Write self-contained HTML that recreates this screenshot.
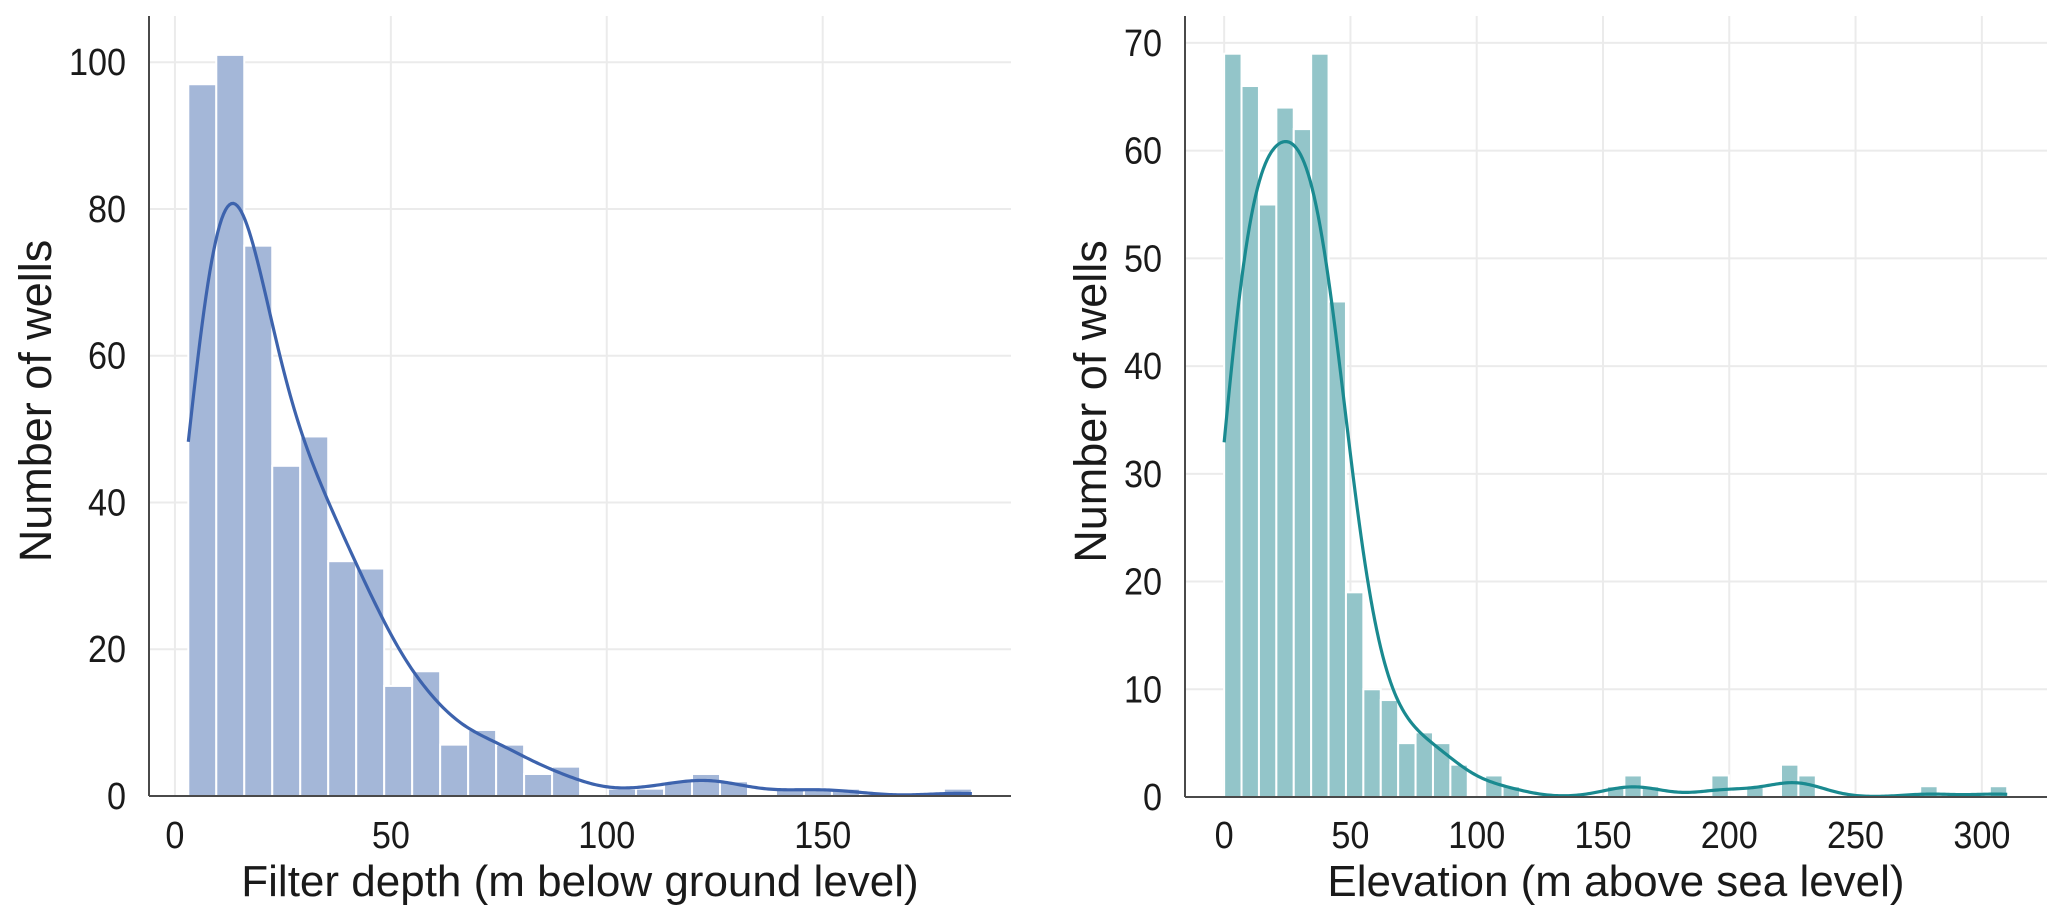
<!DOCTYPE html>
<html><head><meta charset="utf-8"><style>
html,body{margin:0;padding:0;background:#fff;}
svg{display:block;font-family:"Liberation Sans",Arial,sans-serif;}
</style></head><body>
<svg id="chart" width="2067" height="919" viewBox="0 0 2067 919"></svg>
<script>
// Left panel data
const depthBinStart = 3.1;
const depthBinWidth = 6.48;
const depthCounts = [97,101,75,45,49,32,31,15,17,7,9,7,3,4,0,1,1,2,3,2,0,1,1,1,0,0,0,1];
const depthXTicks = [0,50,100,150];
const depthYTicks = [0,20,40,60,80,100];
// Right panel data
const elevBinStart = 0;
const elevBinWidth = 6.89;
const elevCounts = [69,66,55,64,62,69,46,19,10,9,5,6,5,3,0,2,1,0,0,0,0,0,1,2,1,0,0,0,2,0,1,0,3,2,0,0,0,0,0,0,1,0,0,0,1];
const elevXTicks = [0,50,100,150,200,250,300];
const elevYTicks = [0,10,20,30,40,50,60,70];

const NS = 'http://www.w3.org/2000/svg';
const svg = document.getElementById('chart');
function mk(tag, attrs, parent){
  const e = document.createElementNS(NS, tag);
  for (const k in attrs) e.setAttribute(k, attrs[k]);
  (parent||svg).appendChild(e);
  return e;
}

function panel(cfg){
  const {prefix, left, right, top, bottom, xmin, xmax, ymax, binStart, binWidth, counts, xTicks, yTicks, barFill, lineColor, xLabel, yLabelX} = cfg;
  const sx = v => left + (v - xmin) / (xmax - xmin) * (right - left);
  const sy = v => bottom - v / ymax * (bottom - top);
  const g = mk('g', {});
  
  
  xTicks.forEach(t => {
    const l = mk('line', {x1:sx(t), x2:sx(t), y1:top, y2:bottom, stroke:'#ebebeb', 'stroke-width':2}, g);
    
    
  });
  yTicks.forEach(t => {
    const l = mk('line', {x1:left, x2:right, y1:sy(t), y2:sy(t), stroke:'#ebebeb', 'stroke-width':2}, g);
    
    
  });
  counts.forEach((c, i) => {
    if (c <= 0) return;
    const x0 = sx(binStart + i * binWidth), x1 = sx(binStart + (i + 1) * binWidth);
    const r = mk('rect', {x:x0, y:sy(c), width:x1 - x0, height:sy(0) - sy(c), fill:barFill, stroke:'#fff', 'stroke-width':2}, g);
    
    
  });
  let n = 0, mean = 0;
  counts.forEach((c, i) => { n += c; mean += c * (binStart + (i + 0.5) * binWidth); });
  mean /= n;
  let vr = 0;
  counts.forEach((c, i) => { const d = binStart + (i + 0.5) * binWidth - mean; vr += c * d * d; });
  const sd = Math.sqrt(vr / (n - 1));
  const h = sd * Math.pow(n, -0.2);
  const lo = binStart, hi = binStart + counts.length * binWidth;
  let d = '';
  for (let k = 0; k <= 400; k++) {
    const x = lo + (hi - lo) * k / 400;
    let dens = 0;
    counts.forEach((c, i) => {
      const ctr = binStart + (i + 0.5) * binWidth;
      const z = (x - ctr) / h;
      dens += c * Math.exp(-0.5 * z * z) / (h * Math.sqrt(2 * Math.PI));
    });
    const y = dens * binWidth;
    d += (k ? 'L' : 'M') + sx(x).toFixed(2) + ',' + sy(y).toFixed(2);
  }
  const p = mk('path', {d:d, fill:'none', stroke:lineColor, 'stroke-width':3.2}, g);
  
  
  const sl = mk('line', {x1:left, x2:left, y1:top, y2:bottom, stroke:'#4a4a4a', 'stroke-width':2}, g);
  
  
  const sb = mk('line', {x1:left, x2:right, y1:bottom, y2:bottom, stroke:'#4a4a4a', 'stroke-width':2}, g);
  
  
  xTicks.forEach(t => {
    const tx = mk('text', {x:0, y:0, 'text-anchor':'middle', 'font-size':38, fill:'#1a1a1a', transform:'translate(' + sx(t) + ',848) scale(0.9,1)'}, g);
    tx.textContent = t;
    
    
  });
  yTicks.forEach(t => {
    const tx = mk('text', {x:0, y:0, 'text-anchor':'end', 'font-size':38, fill:'#1a1a1a', transform:'translate(' + (left - 23) + ',' + (sy(t) + 13) + ') scale(0.9,1)'}, g);
    tx.textContent = t;
    
    
  });
  const xl = mk('text', {x:(left + right) / 2, y:896, 'text-anchor':'middle', 'font-size':44, fill:'#1a1a1a'}, g);
  xl.textContent = xLabel;
  
  
  const yl = mk('text', {x:0, y:0, 'text-anchor':'middle', 'font-size':45, fill:'#1a1a1a', transform:'translate(' + yLabelX + ',' + ((top + bottom) / 2 - 5) + ') rotate(-90)'}, g);
  yl.textContent = 'Number of wells';
  
  
}

panel({prefix:'depth', left:149, right:1011, top:16, bottom:796, xmin:-6, xmax:193.6, ymax:106.3,
  binStart:depthBinStart, binWidth:depthBinWidth, counts:depthCounts, xTicks:depthXTicks, yTicks:depthYTicks,
  barFill:'#a4b7d8', lineColor:'#3d63ad', xLabel:'Filter depth (m below ground level)', yLabelX:51});
panel({prefix:'elevation', left:1185, right:2047, top:16, bottom:797, xmin:-15.5, xmax:325.8, ymax:72.5,
  binStart:elevBinStart, binWidth:elevBinWidth, counts:elevCounts, xTicks:elevXTicks, yTicks:elevYTicks,
  barFill:'#93c5c9', lineColor:'#1a8a90', xLabel:'Elevation (m above sea level)', yLabelX:1106});
</script>
</body></html>
